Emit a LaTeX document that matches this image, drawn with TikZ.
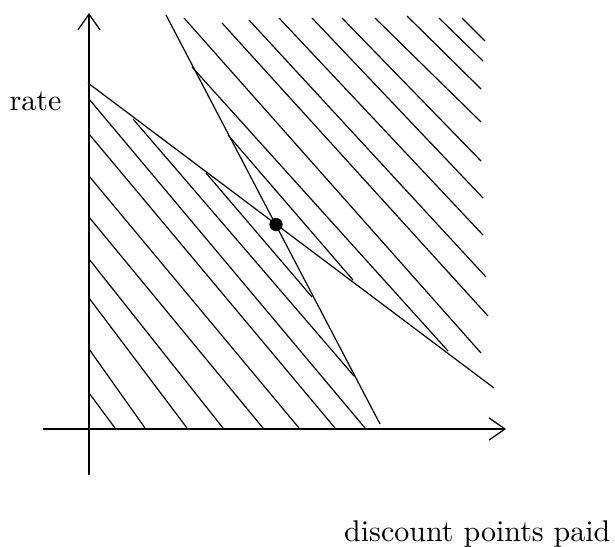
\documentclass[tikz,border=0pt]{standalone}
\usetikzlibrary{arrows.meta}
\begin{document}
\begin{tikzpicture}[x=0.3333pt,y=-0.3333pt,
  axis/.style={line width=0.42pt,-{Straight Barb[length=5.3pt,width=7.4pt,line width=0.42pt]}},
  mainline/.style={line width=0.4pt},
  hatch/.style={line width=0.4pt},
  lbl/.style={inner sep=0pt,font=\normalsize}]
\useasboundingbox (0,0) rectangle (615,546);
% axes
\coordinate (yb) at (89,475);
\coordinate (yt) at (89,13);
\coordinate (xl) at (43,429);
\coordinate (xr) at (506,429);
\draw[axis] (yb) -- (yt);
\draw[axis] (xl) -- (xr);
% main lines
\coordinate (a1) at (88,83);
\coordinate (a2) at (494,388);
\coordinate (b1) at (166,15);
\coordinate (b2) at (380,424);
\draw[mainline] (a1) -- (a2);
\draw[mainline] (b1) -- (b2);
% upper-right hatching
\foreach \xa/\ya/\xb/\yb in {462/18/485/41, 439/18/483/61, 407/16/481/89, 375/18/481/122,
  342/18/481/161, 312/18/483/198, 279/18/483/235, 249/20/486/277,
  222/23/488/316, 184/18/481/353, 192/67/448/351, 228/135/353/280}
  \draw[hatch] (\xa,\ya) -- (\xb,\yb);
% lower-left hatching
\foreach \xa/\ya/\xb/\yb in {206/173/312/297, 133/119/354/376, 89/99/365/428,
  89/134/335/428, 89/176/299/428, 89/217/263/428, 89/259/223/428,
  89/298/187/428, 89/349/145/428, 89/393/115/428}
  \draw[hatch] (\xa,\ya) -- (\xb,\yb);
% intersection point
\node[circle,fill=black,inner sep=0pt,minimum size=4.4pt] (dot) at (276,224.5) {};
% labels
\node[lbl,anchor=base west] (rate) at (9,111) {rate};
\node[lbl,anchor=base east] (pts) at (611,541.5) {discount points paid};
\end{tikzpicture}
\end{document}
